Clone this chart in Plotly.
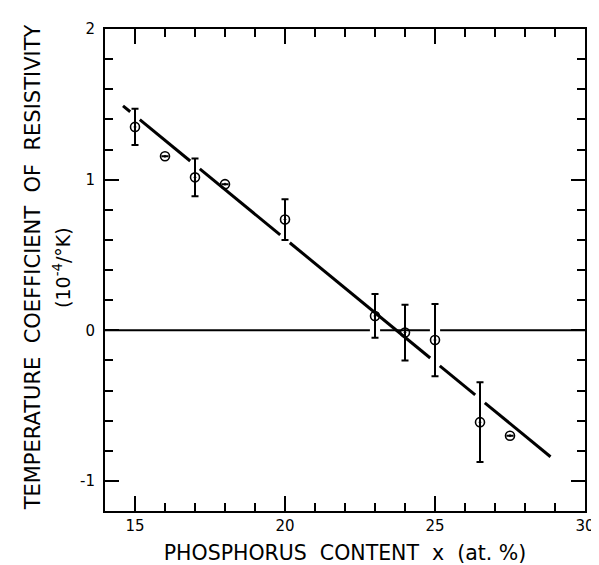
import numpy as np
import plotly.graph_objects as go

# ---- data ----
p_content = [15.0, 16.0, 17.0, 18.0, 20.0, 23.0, 24.0, 25.0, 26.5, 27.5]
tcr = [1.35, 1.155, 1.015, 0.97, 0.735, 0.095, -0.015, -0.065, -0.61, -0.70]
tcr_err = [0.12, 0.0, 0.125, 0.0, 0.135, 0.145, 0.185, 0.24, 0.265, 0.0]

fit_x_ends = [14.6, 28.85]
fit_y_ends = [1.49, -0.84]

x_tick_vals = [15, 20, 25, 30]
y_tick_vals = [-1, 0, 1, 2]
x_range = [14, 30]
y_range = [-1.2, 2]

x_title = "PHOSPHORUS  CONTENT  x  (at. %)"
y_title_1 = "TEMPERATURE  COEFFICIENT  OF  RESISTIVITY"
y_title_2 = "(10<sup>-4</sup>/°K)"

FONT = "DejaVu Sans"


def broken_line(x0, x1, y0, y1, cuts, half):
    """Build a straight line from (x0,y0) to (x1,y1) with small gaps at the given x cuts."""
    slope = (y1 - y0) / (x1 - x0)
    xs, ys = [], []
    edges = [x0]
    for c in sorted(cuts):
        edges += [c - half, c + half]
    edges.append(x1)
    for a, b in zip(edges[0::2], edges[1::2]):
        xs += [a, b, None]
        ys += [y0 + slope * (a - x0), y0 + slope * (b - x0), None]
    return xs, ys


# gaps where the fit line crosses an error bar away from the marker
slope = (fit_y_ends[1] - fit_y_ends[0]) / (fit_x_ends[1] - fit_x_ends[0])
fit_cuts, zero_cuts = [], []
for xv, yv, ev in zip(p_content, tcr, tcr_err):
    if ev <= 0:
        continue
    yl = fit_y_ends[0] + slope * (xv - fit_x_ends[0])
    if abs(yl - yv) <= ev + 0.02 and abs(yl - yv) > 0.04:
        fit_cuts.append(xv)
    if abs(yv) <= ev and abs(yv) > 0.04:
        zero_cuts.append(xv)

fx, fy = broken_line(fit_x_ends[0], fit_x_ends[1], fit_y_ends[0], fit_y_ends[1], fit_cuts, 0.16)
zx, zy = broken_line(x_range[0], x_range[1], 0, 0, zero_cuts, 0.17)

fig = go.Figure()

fig.add_trace(go.Scatter(x=zx, y=zy, mode="lines",
                         line=dict(color="black", width=2),
                         hoverinfo="skip", showlegend=False))
fig.add_trace(go.Scatter(x=fx, y=fy, mode="lines",
                         line=dict(color="black", width=3),
                         hoverinfo="skip", showlegend=False))

fig.add_trace(go.Scatter(
    x=p_content, y=tcr, mode="markers",
    marker=dict(symbol="circle-open-dot", size=9, color="black",
                line=dict(color="black", width=1.6)),
    error_y=dict(type="data", array=tcr_err, visible=True,
                 color="black", thickness=2, width=3.5),
    showlegend=False))

axis_common = dict(
    showline=True, linecolor="black", linewidth=2, mirror="ticks",
    ticks="inside", tickcolor="black", tickwidth=2,
    showgrid=False, zeroline=False,
    tickfont=dict(family=FONT, size=15, color="black"),
)

fig.update_xaxes(range=x_range, tickvals=x_tick_vals, ticklen=15,
                 minor=dict(ticks="inside", dtick=1, tick0=0, ticklen=8,
                            tickwidth=2, tickcolor="black", showgrid=False),
                 title=dict(text=x_title, font=dict(family=FONT, size=20.5, color="black"),
                            standoff=12),
                 **axis_common)
fig.update_yaxes(range=y_range, tickvals=y_tick_vals, ticklen=14,
                 ticktext=["-1", "0", "1", "2"], ticklabelstandoff=5,
                 minor=dict(ticks="inside", dtick=0.2, tick0=0, ticklen=8,
                            tickwidth=2, tickcolor="black", showgrid=False),
                 **axis_common)

fig.add_annotation(text=y_title_1, textangle=-90, xref="paper", yref="paper",
                   x=-0.1505, y=0.505, xanchor="center", yanchor="middle",
                   showarrow=False, font=dict(family=FONT, size=21, color="black"))
fig.add_annotation(text=y_title_2, textangle=-90, xref="paper", yref="paper",
                   x=-0.091, y=0.505, xanchor="center", yanchor="middle",
                   showarrow=False, font=dict(family=FONT, size=19, color="black"))

fig.update_layout(
    width=599, height=565,
    margin=dict(l=97, r=17, t=18, b=56),
    paper_bgcolor="white", plot_bgcolor="white",
    showlegend=False,
)

fig.write_html("out.html")
